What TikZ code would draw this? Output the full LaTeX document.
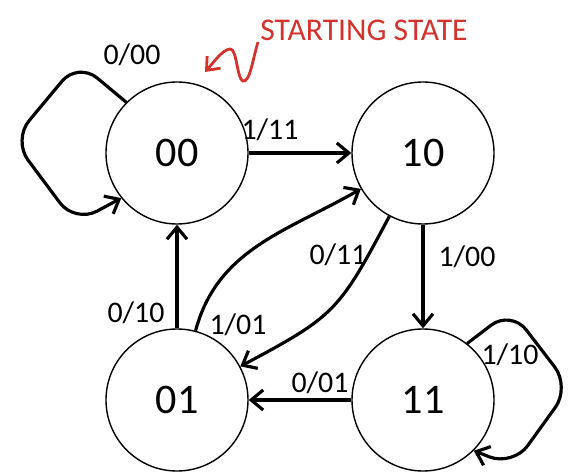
\documentclass[tikz,border=0pt]{standalone}
\usepackage{fontspec}
\setmainfont{Carlito}
\usetikzlibrary{arrows.meta}
\definecolor{startred}{RGB}{212,50,44}

\begin{document}
\begin{tikzpicture}[x=0.2mm, y=-0.2mm]

	\tikzstyle{state_node}=[circle, fill=white, draw=black, line width=0.8pt, minimum size=28.4mm, inner sep=0pt, font=\fontsize{24}{28}\selectfont]
	\tikzstyle{edge_label}=[inner sep=1pt, font=\fontsize{17}{20}\selectfont]
	\tikzstyle{transition}=[-{Straight Barb[length=2.4mm, width=4mm]}, line width=1.8pt, draw=black]

	\useasboundingbox (0,0) rectangle (574,473);

	\node[state_node] at (177,153) (s00) {00};
	\node[state_node] at (423,153) (s10) {10};
	\node[state_node] at (177,400) (s01) {01};
	\node[state_node] at (423,400) (s11) {11};

	% corners of the two self loops
	\coordinate (loop00_top) at (78,62);
	\coordinate (loop00_left) at (13,140);
	\coordinate (loop00_bottom) at (75,223);
	\coordinate (loop11_top) at (511,310);
	\coordinate (loop11_right) at (570,387);
	\coordinate (loop11_bottom) at (513,466);

	\draw[transition, rounded corners=5mm] (s00.135) -- (loop00_top) -- (loop00_left) -- (loop00_bottom) -- (s00.219);
	\draw[transition, rounded corners=5mm] (s11.52) -- (loop11_top) -- (loop11_right) -- (loop11_bottom) -- (s11.-45);

	\draw[transition] (s00) -- (s10);
	\draw[transition] (s10) -- (s11);
	\draw[transition] (s11) -- (s01);
	\draw[transition] (s01) -- (s00);
	\draw[transition] (s01) to[out=75, in=210] (s10);
	\draw[transition] (s10) to[out=242, in=28, looseness=1.3] (s01);

	\node[edge_label] at (132,55) (l_0_00) {0/00};
	\node[edge_label] at (270,130) (l_1_11) {1/11};
	\node[edge_label] at (467,257) (l_1_00) {1/00};
	\node[edge_label] at (338,255) (l_0_11) {0/11};
	\node[edge_label] at (238,325) (l_1_01) {1/01};
	\node[edge_label] at (136,313) (l_0_10) {0/10};
	\node[edge_label] at (320,383) (l_0_01) {0/01};
	\node[edge_label] at (510,355) (l_1_10) {1/10};

	% start marker
	\node[text=startred, font=\fontsize{18}{21}\selectfont, anchor=west, inner sep=0pt] at (260,30) (start_label) {STARTING STATE};
	\coordinate (squiggle_top) at (258,42);
	\coordinate (squiggle_low) at (243,81);
	\coordinate (squiggle_peak) at (230,49);
	\coordinate (squiggle_tip) at (205,72);
	\draw[startred, line width=1.6pt, -{Straight Barb[length=2.2mm, width=3.6mm]}]
		(squiggle_top) .. controls (252,62) and (250,82) .. (squiggle_low)
		.. controls (237,80) and (237,48) .. (squiggle_peak)
		.. controls (222,50) and (214,62) .. (squiggle_tip);
\end{tikzpicture}
\end{document}
